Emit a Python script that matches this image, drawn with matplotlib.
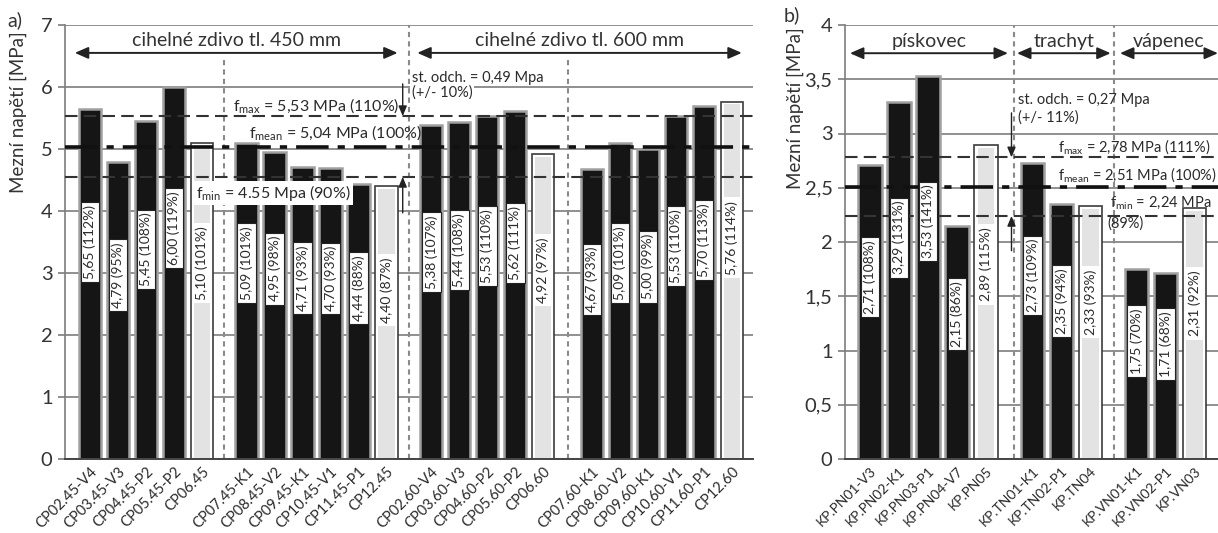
import numpy as np
import matplotlib.pyplot as plt

plt.rcParams['font.family'] = ['Lato', 'DejaVu Sans']
plt.rcParams['mathtext.fontset'] = 'custom'
plt.rcParams['mathtext.rm'] = 'Lato'
plt.rcParams['mathtext.it'] = 'Lato'

# a) cihelné zdivo - mezní napětí jednotlivých vzorků
names_a = ['CP02.45-V4', 'CP03.45-V3', 'CP04.45-P2', 'CP05.45-P2', 'CP06.45',
           'CP07.45-K1', 'CP08.45-V2', 'CP09.45-K1', 'CP10.45-V1', 'CP11.45-P1', 'CP12.45',
           'CP02.60-V4', 'CP03.60-V3', 'CP04.60-P2', 'CP05.60-P2', 'CP06.60',
           'CP07.60-K1', 'CP08.60-V2', 'CP09.60-K1', 'CP10.60-V1', 'CP11.60-P1', 'CP12.60']
values_a = [5.65, 4.79, 5.45, 6.00, 5.10,
            5.09, 4.95, 4.71, 4.70, 4.44, 4.40,
            5.38, 5.44, 5.53, 5.62, 4.92,
            4.67, 5.09, 5.00, 5.53, 5.70, 5.76]
pct_a = [112, 95, 108, 119, 101,
         101, 98, 93, 93, 88, 87,
         107, 108, 110, 111, 97,
         93, 101, 99, 110, 113, 114]
groups_a = [5, 6, 5, 6]
light_a = ['CP06.45', 'CP12.45', 'CP06.60', 'CP12.60']
f_a = {'min': 4.55, 'mean': 5.04, 'max': 5.53}

# b) kamenné zdivo
names_b = ['KP.PN01-V3', 'KP.PN02-K1', 'KP.PN03-P1', 'KP.PN04-V7', 'KP.PN05',
           'KP.TN01-K1', 'KP.TN02-P1', 'KP.TN04',
           'KP.VN01-K1', 'KP.VN02-P1', 'KP.VN03']
values_b = [2.71, 3.29, 3.53, 2.15, 2.89,
            2.73, 2.35, 2.33,
            1.75, 1.71, 2.31]
pct_b = [108, 131, 141, 86, 115,
         109, 94, 93,
         70, 68, 92]
groups_b = [5, 3, 3]
light_b = ['KP.PN05', 'KP.TN04', 'KP.VN03']
f_b = {'min': 2.24, 'mean': 2.51, 'max': 2.78}

GRID = '#7d7d7d'
TXT = '#2a2a2a'


def slot_positions(groups, gaps):
    pos = []
    start = 0.0
    for i, n in enumerate(groups):
        pos.extend(start + np.arange(n))
        if i < len(gaps):
            start = pos[-1] + gaps[i]
    return np.array(pos)


def fmt(v):
    return f'{v:.2f}'.replace('.', ',')


def draw_bars(ax, x, names, values, pct, light, ymax):
    eps = ymax * 0.006
    for xi, name, v, p in zip(x, names, values, pct):
        lab = f'{fmt(v)} ({p}%)'
        if name in light:
            ax.bar(xi, v, 0.8, color='white', edgecolor='#3c3c3c', lw=1.2, zorder=2)
            ax.bar(xi, v - eps, 0.58, color='#e3e3e3', zorder=2)
            box = dict(boxstyle='square,pad=0.25', fc='white', ec='none')
        else:
            ax.bar(xi, v, 0.8, color='#151515', edgecolor='#a0a0a0', lw=1.8, zorder=2)
            box = dict(boxstyle='square,pad=0.22', fc='white', ec='#222222', lw=0.8)
        ax.text(xi, v * 0.62, lab, rotation=90, ha='center', va='center',
                fontsize=10, color=TXT, bbox=box, zorder=4)


def style_axis(ax, ymax, step, labels):
    ax.set_ylim(0, ymax)
    ticks = np.arange(0, ymax + step / 2, step)
    ax.set_yticks(ticks)
    ax.set_yticklabels(labels, fontsize=14.5, color='#333')
    ax.yaxis.grid(True, color=GRID, lw=1.2)
    ax.set_axisbelow(True)
    for s in ['top', 'right']:
        ax.spines[s].set_visible(False)
    ax.spines['left'].set_color(GRID)
    ax.spines['left'].set_linewidth(1.2)
    ax.spines['bottom'].set_color('#444')
    ax.spines['bottom'].set_linewidth(1.4)
    ax.tick_params(axis='y', length=5, width=1.2, color=GRID, pad=4)
    ax.tick_params(axis='x', length=0, pad=4)


def ref_lines(ax, f):
    ax.axhline(f['max'], color='#333', lw=1.5, ls=(0, (6, 3)), zorder=3)
    ax.axhline(f['min'], color='#333', lw=1.5, ls=(0, (6, 3)), zorder=3)
    ax.axhline(f['mean'], color='#111', lw=2.6, ls=(0, (9, 2.5, 2, 2.5)), zorder=3)


def span_arrow(ax, x0, x1, y, label, ylab, fs):
    ax.annotate('', xy=(x0, y), xytext=(x1, y),
                arrowprops=dict(arrowstyle='<|-|>,head_length=0.8,head_width=0.35',
                                color='#222', lw=1.4, shrinkA=0, shrinkB=0), zorder=5)
    ax.text((x0 + x1) / 2, ylab, label, ha='center', va='center', fontsize=fs, color='#333')


def arrow(ax, x, y0, y1):
    ax.annotate('', xy=(x, y1), xytext=(x, y0),
                arrowprops=dict(arrowstyle='-|>,head_length=0.6,head_width=0.25',
                                color='#222', lw=1.0, shrinkA=0, shrinkB=0), zorder=5)


fig = plt.figure(figsize=(12.18, 5.33), dpi=100)

# --- a) ---
ax1 = fig.add_axes([65 / 1218, 74 / 533, 688 / 1218, 434 / 533])
x_a = slot_positions(groups_a, [1.6, 1.6, 1.75])
ax1.set_xlim(-0.89, 23.7)
style_axis(ax1, 7, 1, [str(i) for i in range(8)])
draw_bars(ax1, x_a, names_a, values_a, pct_a, light_a, 7)
ref_lines(ax1, f_a)
ax1.set_xticks(x_a)
ax1.set_xticklabels(names_a, rotation=45, ha='right', rotation_mode='anchor',
                    fontsize=10.5, color=TXT)

ax1.axvline(11.4, color='#8a8a8a', lw=1.5, ls=(0, (2.5, 2)), zorder=1)
for xv in [4.8, 17.1]:
    ax1.plot([xv, xv], [0, 6.45], color='#8a8a8a', lw=1.5, ls=(0, (2.5, 2)), zorder=1)

span_arrow(ax1, -0.54, 11.0, 6.55, 'cihelné zdivo tl. 450 mm', 6.75, 14)
span_arrow(ax1, 11.7, 23.3, 6.55, 'cihelné zdivo tl. 600 mm', 6.75, 14)

ax1.text(5.1, 5.7, r'f$_{\mathrm{max}}$ = 5,53 MPa (110%)', fontsize=11.5,
         ha='left', va='center', color=TXT, zorder=5)
ax1.text(5.7, 5.27, r'f$_{\mathrm{mean}}$ = 5,04 MPa (100%)', fontsize=11.5,
         ha='left', va='center', color=TXT, zorder=5)
ax1.text(3.8, 4.29, r'f$_{\mathrm{min}}$ = 4.55 Mpa (90%)', fontsize=11.5,
         ha='left', va='center', color=TXT, zorder=5,
         bbox=dict(boxstyle='square,pad=0.15', fc='white', ec='none'))
ax1.text(11.5, 6.15, 'st. odch. = 0,49 Mpa', fontsize=10.5, ha='left', va='center',
         color=TXT, zorder=5, bbox=dict(boxstyle='square,pad=0.1', fc='white', ec='none'))
ax1.text(11.5, 5.91, '(+/- 10%)', fontsize=10.5, ha='left', va='center',
         color=TXT, zorder=5, bbox=dict(boxstyle='square,pad=0.1', fc='white', ec='none'))
arrow(ax1, 11.18, 6.05, f_a['max'])
arrow(ax1, 11.18, 3.97, f_a['min'])

# --- b) ---
ax2 = fig.add_axes([845 / 1218, 74 / 533, 373 / 1218, 434 / 533])
x_b = slot_positions(groups_b, [1.6, 1.6])
ax2.set_xlim(-0.86, 12.0)
style_axis(ax2, 4, 0.5, ['0', '0,5', '1', '1,5', '2', '2,5', '3', '3,5', '4'])
draw_bars(ax2, x_b, names_b, values_b, pct_b, light_b, 4)
ref_lines(ax2, f_b)
ax2.set_xticks(x_b)
ax2.set_xticklabels(names_b, rotation=45, ha='right', rotation_mode='anchor',
                    fontsize=10, color=TXT)

for xv in [4.95, 8.4]:
    ax2.axvline(xv, color='#8a8a8a', lw=1.5, ls=(0, (2.5, 2)), zorder=1)

span_arrow(ax2, -0.69, 4.76, 3.74, 'pískovec', 3.85, 14)
span_arrow(ax2, 5.07, 8.3, 3.74, 'trachyt', 3.85, 14)
span_arrow(ax2, 8.62, 12.0, 3.74, 'vápenec', 3.85, 14)

ax2.text(6.5, 2.88, r'f$_{\mathrm{max}}$ = 2,78 MPa (111%)', fontsize=10.5,
         ha='left', va='center', color=TXT, zorder=5)
ax2.text(6.5, 2.62, r'f$_{\mathrm{mean}}$ = 2,51 MPa (100%)', fontsize=10.5,
         ha='left', va='center', color=TXT, zorder=5)
ax2.text(8.28, 2.36, r'f$_{\mathrm{min}}$ = 2,24 MPa', fontsize=10.5,
         ha='left', va='center', color=TXT, zorder=5)
ax2.text(8.2, 2.17, '(89%)', fontsize=10.5, ha='left', va='center', color=TXT, zorder=5)
ax2.text(5.1, 3.31, 'st. odch. = 0,27 Mpa', fontsize=10.5, ha='left', va='center',
         color=TXT, zorder=5)
ax2.text(5.1, 3.15, '(+/- 11%)', fontsize=10.5, ha='left', va='center',
         color=TXT, zorder=5)
arrow(ax2, 4.88, 3.19, f_b['max'])
arrow(ax2, 4.88, 1.92, f_b['min'])

# popisky os a panelů
fig.text(18 / 1218, 1 - 112 / 533, 'Mezní napětí [MPa]', rotation=90,
         ha='center', va='center', fontsize=13.5, color='#333')
fig.text(795 / 1218, 1 - 108 / 533, 'Mezní napětí [MPa]', rotation=90,
         ha='center', va='center', fontsize=13.5, color='#333')
fig.text(15 / 1218, 1 - 20 / 533, 'a)', ha='center', va='center', fontsize=14, color='#333')
fig.text(792 / 1218, 1 - 15 / 533, 'b)', ha='center', va='center', fontsize=14, color='#333')

fig.savefig('out.png', dpi=100)
